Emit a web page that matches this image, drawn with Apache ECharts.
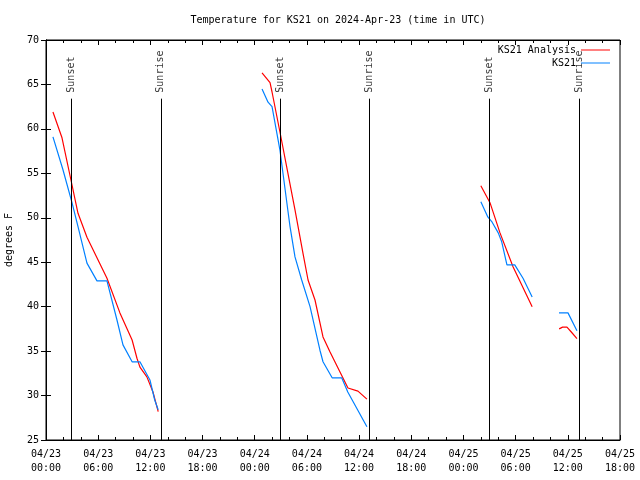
<!DOCTYPE html>
<html>
<head>
<meta charset="utf-8">
<script src="https://cdn.jsdelivr.net/npm/echarts@6/dist/echarts.min.js"></script>
<style>html,body{margin:0;padding:0;background:#fff}#c{width:640px;height:480px}</style>
</head>
<body>
<div id="c"></div>
<script>
// hours since 2024-04-23 00:00 UTC ('-' breaks the line)
var analysisHours = [0.8,1.84,2.87,3.68,4.71,5.86,7.01,8.5,9.9,10.46,10.8,11.6,12.3,12.9,'-',
  24.84,25.76,25.99,26.9,28.63,29.55,30.13,30.93,31.85,32.66,34.72,35.87,36.9,'-',
  50.0,51.05,52.2,53.7,55.9,'-',
  59.0,59.4,59.9,60.4,61.05];
var analysisTemps = [61.9,59.0,54.25,50.5,47.8,45.5,43.2,39.3,36.25,34.2,33.2,32.1,30.4,28.2,'-',
  66.3,65.2,64.15,59.65,50.9,46.0,43.0,40.75,36.6,34.9,30.85,30.5,29.6,'-',
  53.6,51.7,48.3,44.5,40.0,'-',
  37.5,37.7,37.7,37.15,36.4];
var obsHours = [0.8,1.95,2.99,3.68,4.71,5.86,7.01,8.16,8.85,9.9,10.8,11.95,12.5,12.9,'-',
  24.84,25.53,25.99,26.9,27.8,28.06,28.63,29.4,30.36,31.5,31.85,32.9,34.0,34.7,36.9,'-',
  50.0,50.8,51.3,52.0,52.4,53.0,53.9,54.85,55.9,'-',
  58.99,60.02,61.05];
var obsTemps = [59.1,55.4,51.7,49.0,44.9,42.9,42.9,38.5,35.7,33.8,33.8,31.75,29.5,28.4,'-',
  64.5,63.0,62.5,57.6,50.9,49.0,45.6,43.0,40.0,35.1,33.8,32.0,32.0,30.4,26.5,'-',
  51.8,50.1,49.5,48.3,47.3,44.7,44.7,43.2,41.1,'-',
  39.3,39.3,37.3];
var sunHours = [2.87, 13.2, 26.9, 37.2, 51.0, 61.3];
var sunNames = ['Sunset','Sunrise','Sunset','Sunrise','Sunset','Sunrise'];
var sunLineTop = 63.4;
var xTickLabels = ['04/23\n00:00','04/23\n06:00','04/23\n12:00','04/23\n18:00',
  '04/24\n00:00','04/24\n06:00','04/24\n12:00','04/24\n18:00',
  '04/25\n00:00','04/25\n06:00','04/25\n12:00','04/25\n18:00'];
var yMin = 25, yMax = 70;

function pairs(xs, ys){ return xs.map(function(x,i){ return [x, ys[i]]; }); }

var FONT = 'DejaVu Sans Mono';
var chart = echarts.init(document.getElementById('c'), null, {renderer:'canvas'});
var sunLines = sunHours.map(function(h){ return [{coord:[h, yMin]},{coord:[h, sunLineTop]}]; });
var sunLabels = sunHours.map(function(h,i){ return {value:[h, sunLineTop], name: sunNames[i]}; });

chart.setOption({
  animation:false,
  backgroundColor:'#fff',
  textStyle:{fontFamily:FONT},
  title:{text:'Temperature for KS21 on 2024-Apr-23 (time in UTC)', left:333, textAlign:'center', top:10,
    textStyle:{fontFamily:FONT, fontSize:10, fontWeight:'normal', color:'#000'}},
  legend:[
    {data:['KS21 Analysis'], right:30, top:45, align:'right', padding:0, itemWidth:29, itemHeight:1, itemGap:0,
     icon:'rect', textStyle:{fontFamily:FONT, fontSize:10, color:'#000'}},
    {data:['KS21'], right:30, top:58, align:'right', padding:0, itemWidth:29, itemHeight:1, itemGap:0,
     icon:'rect', textStyle:{fontFamily:FONT, fontSize:10, color:'#000'}}
  ],
  grid:{left:46, right:20, top:40, bottom:40, show:true, borderColor:'#000', borderWidth:1,
    backgroundColor:'transparent', containLabel:false, outerBoundsMode:'none'},
  xAxis:[
    {type:'value', min:0, max:66, interval:6, position:'bottom',
     axisLine:{lineStyle:{color:'#000'}},
     axisTick:{inside:true, length:5, lineStyle:{color:'#000'}},
     minorTick:{show:true, splitNumber:3, length:3, lineStyle:{color:'#000'}},
     splitLine:{show:false},
     axisLabel:{color:'#000', fontFamily:FONT, fontSize:10, margin:7, lineHeight:14, showMinLabel:true, showMaxLabel:true,
       hideOverlap:false,
       formatter:function(v){ return xTickLabels[Math.round(v/6)]; }}},
    {type:'value', min:0, max:66, interval:6, position:'top',
     axisLine:{lineStyle:{color:'#000'}},
     axisTick:{inside:true, length:5, lineStyle:{color:'#000'}},
     minorTick:{show:true, splitNumber:3, length:3, lineStyle:{color:'#000'}},
     splitLine:{show:false}, axisLabel:{show:false}}
  ],
  yAxis:[
    {type:'value', min:yMin, max:yMax, interval:5, position:'left',
     name:'degrees F', nameLocation:'middle', nameGap:32, nameRotate:90,
     nameTextStyle:{color:'#000', fontFamily:FONT, fontSize:10},
     axisLine:{show:true, lineStyle:{color:'#000'}},
     axisTick:{show:true, inside:true, length:5, lineStyle:{color:'#000'}},
     splitLine:{show:false},
     axisLabel:{color:'#000', fontFamily:FONT, fontSize:10, margin:7}},
    {type:'value', min:yMin, max:yMax, interval:5, position:'right',
     axisLine:{show:true, lineStyle:{color:'#000'}},
     axisTick:{show:true, inside:true, length:5, lineStyle:{color:'#000'}},
     splitLine:{show:false}, axisLabel:{show:false}}
  ],
  series:[
    {name:'sun', type:'scatter', xAxisIndex:0, yAxisIndex:0, symbolSize:0, silent:true,
     data:sunLabels,
     label:{show:true, position:'top', distance:6, rotate:90, align:'left', verticalAlign:'middle',
       color:'#000', fontFamily:FONT, fontSize:10, formatter:function(p){ return p.name; }},
     markLine:{silent:true, symbol:'none', animation:false, label:{show:false},
       lineStyle:{color:'#000', width:1, type:'solid', opacity:1}, emphasis:{disabled:true}, data:sunLines}},
    {name:'KS21 Analysis', type:'line', xAxisIndex:0, yAxisIndex:0, showSymbol:false, symbol:'none',
     connectNulls:false, color:'#ff0000', lineStyle:{color:'#ff0000', width:1.2},
     data:pairs(analysisHours, analysisTemps)},
    {name:'KS21', type:'line', xAxisIndex:0, yAxisIndex:0, showSymbol:false, symbol:'none',
     connectNulls:false, color:'#0080ff', lineStyle:{color:'#0080ff', width:1.2},
     data:pairs(obsHours, obsTemps)}
  ]
});
</script>
</body>
</html>
